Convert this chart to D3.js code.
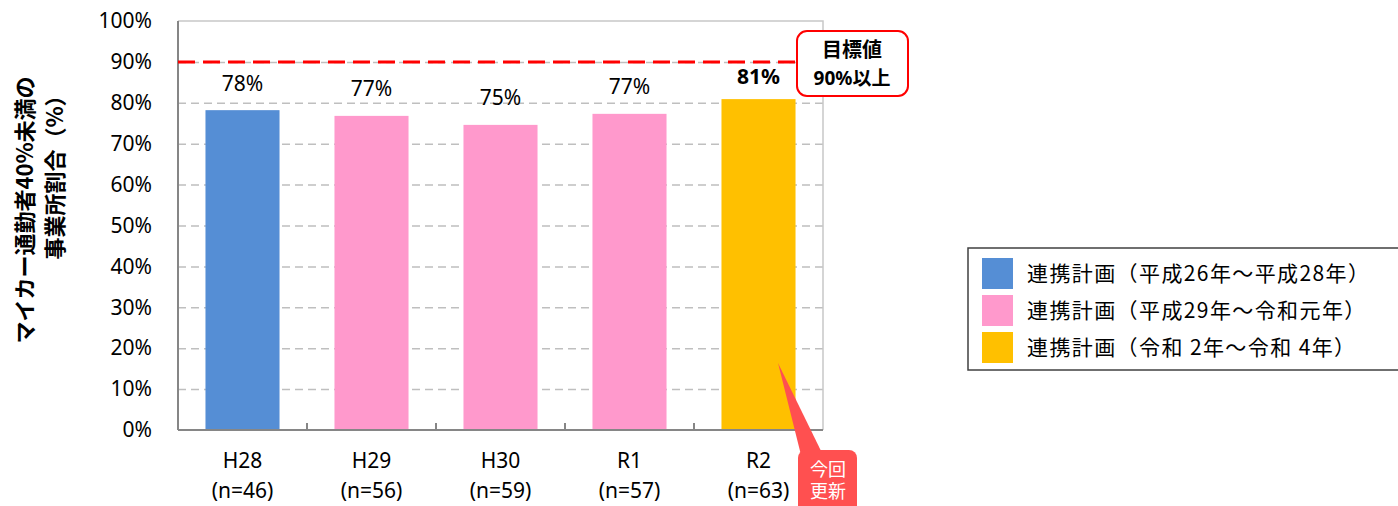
<!DOCTYPE html>
<html>
<head>
<meta charset="utf-8">
<script src="https://cdn.jsdelivr.net/npm/d3@7"></script>
<style>
  body { margin: 0; background: #fff; }
  svg { display: block; font-family: "Noto Sans", "Noto Sans CJK JP", sans-serif; }
</style>
</head>
<body>
<svg width="1398" height="506"></svg>
<script>
// data
var categories = ["H28", "H29", "H30", "R1", "R2"];
var sampleSizes = ["(n=46)", "(n=56)", "(n=59)", "(n=57)", "(n=63)"];
var values = [0.782, 0.768, 0.746, 0.773, 0.809];
var valueLabels = ["78%", "77%", "75%", "77%", "81%"];
var seriesOf = [0, 1, 1, 1, 2];
var seriesNames = ["連携計画（平成26年～平成28年）", "連携計画（平成29年～令和元年）", "連携計画（令和 2年～令和 4年）"];
var yTicks = [0, 0.1, 0.2, 0.3, 0.4, 0.5, 0.6, 0.7, 0.8, 0.9, 1.0];
var target = 0.9;

var colors = ["#558ed5", "#ff99cc", "#ffc000"];

var svg = d3.select("svg");
var plot = {left: 178, right: 823, top: 21, bottom: 430};

var xScale = d3.scaleBand()
  .domain(categories)
  .range([plot.left, plot.right])
  .paddingInner(0.426)
  .paddingOuter(0.213);

var yScale = d3.scaleLinear()
  .domain([0, 1])
  .range([plot.bottom, plot.top]);

// gridlines
svg.append("g")
  .attr("transform", "translate(" + plot.left + ",0)")
  .call(d3.axisLeft(yScale).tickValues(yTicks.slice(1, -1)).tickSize(-(plot.right - plot.left)).tickFormat(""))
  .call(function(g) {
    g.select(".domain").remove();
    g.selectAll("line").attr("stroke", "#bfbfbf").attr("stroke-width", 1.5).attr("stroke-dasharray", "8,5");
  });

// plot border top/right
svg.append("path")
  .attr("d", "M" + plot.left + "," + plot.top + "H" + plot.right + "V" + plot.bottom)
  .attr("fill", "none").attr("stroke", "#c8c8c8").attr("stroke-width", 1.5);

// y tick labels
svg.append("g")
  .attr("transform", "translate(" + plot.left + ",0)")
  .call(d3.axisLeft(yScale).tickValues(yTicks).tickSize(0).tickPadding(26).tickFormat(d3.format(".0%")))
  .call(function(g) {
    g.select(".domain").remove();
    g.selectAll("text").attr("font-size", 21).attr("fill", "#000").attr("font-family", "Noto Sans");
  });

// bars
svg.append("g").selectAll("rect").data(values).enter()
  .append("rect")
  .attr("x", function(d, i) { return xScale(categories[i]); })
  .attr("y", function(d) { return yScale(d); })
  .attr("width", xScale.bandwidth())
  .attr("height", function(d) { return yScale(0) - yScale(d); })
  .attr("fill", function(d, i) { return colors[seriesOf[i]]; });

// value labels
svg.append("g").selectAll("text").data(values).enter()
  .append("text")
  .attr("x", function(d, i) { return xScale(categories[i]) + xScale.bandwidth() / 2; })
  .attr("y", function(d, i) { return yScale(d) - (i === values.length - 1 ? 22 : 27); })
  .attr("dy", "0.35em")
  .attr("text-anchor", "middle")
  .attr("font-size", 21)
  .attr("font-weight", function(d, i) { return i === values.length - 1 ? "bold" : "normal"; })
  .text(function(d, i) { return valueLabels[i]; });

// axes lines
svg.append("line")
  .attr("x1", plot.left).attr("x2", plot.left)
  .attr("y1", plot.top).attr("y2", plot.bottom)
  .attr("stroke", "#868686").attr("stroke-width", 2);
svg.append("line")
  .attr("x1", plot.left).attr("x2", plot.right)
  .attr("y1", plot.bottom).attr("y2", plot.bottom)
  .attr("stroke", "#868686").attr("stroke-width", 2);
svg.append("g").selectAll("line").data(categories.slice(0, -1)).enter()
  .append("line")
  .attr("x1", function(d) { return xScale(d) + xScale.bandwidth() / 2 + xScale.step() / 2; })
  .attr("x2", function(d) { return xScale(d) + xScale.bandwidth() / 2 + xScale.step() / 2; })
  .attr("y1", plot.bottom).attr("y2", plot.bottom - 7)
  .attr("stroke", "#868686").attr("stroke-width", 2);

// category labels
var catG = svg.append("g").selectAll("g").data(categories).enter()
  .append("g")
  .attr("transform", function(d) { return "translate(" + (xScale(d) + xScale.bandwidth() / 2) + ",0)"; });
catG.append("text")
  .attr("y", 461).attr("dy", "0.35em").attr("text-anchor", "middle").attr("font-size", 21)
  .text(function(d) { return d; });
catG.append("text")
  .attr("y", 491).attr("dy", "0.35em").attr("text-anchor", "middle").attr("font-size", 21)
  .text(function(d, i) { return sampleSizes[i]; });

// target line
svg.append("line")
  .attr("x1", plot.left).attr("x2", 797)
  .attr("y1", yScale(target)).attr("y2", yScale(target))
  .attr("stroke", "#ff0000").attr("stroke-width", 3).attr("stroke-dasharray", "17,8");

// target callout
svg.append("rect")
  .attr("x", 797).attr("y", 31).attr("width", 111).attr("height", 65).attr("rx", 10)
  .attr("fill", "#fff").attr("stroke", "#ff0000").attr("stroke-width", 2);
svg.append("text").attr("x", 852).attr("y", 50).attr("dy", "0.35em").attr("text-anchor", "middle")
  .attr("font-size", 20).attr("font-weight", "bold").attr("font-family", "Noto Sans CJK JP").text("目標値");
svg.append("text").attr("x", 852).attr("y", 78).attr("dy", "0.35em").attr("text-anchor", "middle")
  .attr("font-size", 19).attr("font-weight", "bold").text("90%以上");

// update callout
var noteCol = "#ff5050";
svg.append("path")
  .attr("d", "M778,363L801,455L823,455Z")
  .attr("fill", noteCol);
svg.append("rect")
  .attr("x", 798).attr("y", 450).attr("width", 59).attr("height", 70).attr("rx", 8)
  .attr("fill", noteCol);
svg.append("text").attr("x", 828).attr("y", 470).attr("dy", "0.35em").attr("text-anchor", "middle")
  .attr("font-size", 18).attr("fill", "#fff").attr("font-family", "Noto Sans CJK JP").text("今回");
svg.append("text").attr("x", 828).attr("y", 492).attr("dy", "0.35em").attr("text-anchor", "middle")
  .attr("font-size", 18).attr("fill", "#fff").attr("font-family", "Noto Sans CJK JP").text("更新");

// y axis title
svg.append("text")
  .attr("transform", "translate(25,210) rotate(-90)")
  .attr("dy", "0.35em").attr("text-anchor", "middle")
  .attr("font-size", 22).attr("font-weight", "bold").attr("font-family", "Noto Sans CJK JP")
  .text("マイカー通勤者40%未満の");
svg.append("text")
  .attr("transform", "translate(55,172) rotate(-90)")
  .attr("dy", "0.35em").attr("text-anchor", "middle")
  .attr("font-size", 22).attr("font-weight", "bold").attr("font-family", "Noto Sans CJK JP")
  .text("事業所割合（%）");

// legend
svg.append("rect")
  .attr("x", 968).attr("y", 248).attr("width", 440).attr("height", 122)
  .attr("fill", "#fff").attr("stroke", "#404040").attr("stroke-width", 1.5);
var leg = svg.append("g").selectAll("g").data(seriesNames).enter()
  .append("g")
  .attr("transform", function(d, i) { return "translate(982," + (258 + i * 37) + ")"; });
leg.append("rect").attr("width", 31).attr("height", 31).attr("fill", function(d, i) { return colors[i]; });
leg.append("text").attr("x", 45).attr("y", 16).attr("dy", "0.35em")
  .attr("font-size", 21).attr("letter-spacing", 1.4).attr("font-family", "Noto Sans CJK JP")
  .text(function(d) { return d; });
</script>
</body>
</html>
